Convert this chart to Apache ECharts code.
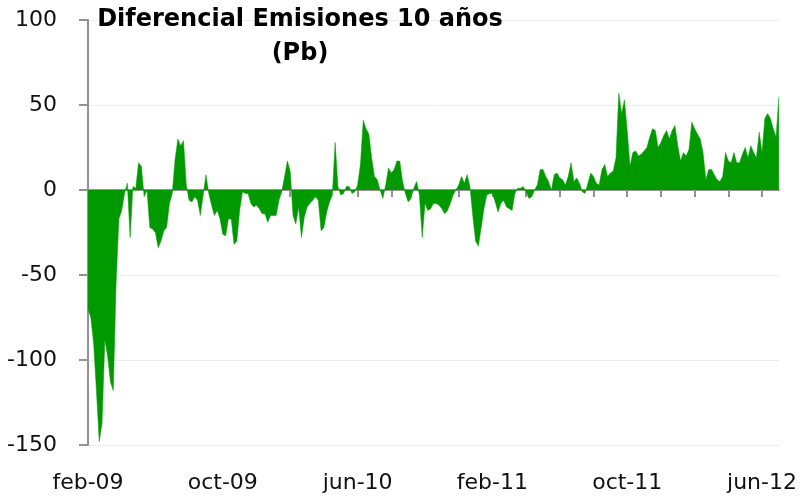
<!DOCTYPE html>
<html>
<head>
<meta charset="utf-8">
<script src="https://cdn.jsdelivr.net/npm/echarts@6/dist/echarts.min.js"></script>
<style>
  html, body { margin: 0; padding: 0; background: #fff; }
  #chart { width: 800px; height: 499px; }
</style>
</head>
<body>
<div id="chart"></div>
<script>
// meses (6 muestras por mes)
const months = [
  "feb-09", "mar-09", "abr-09", "may-09", "jun-09", "jul-09", "ago-09", "sep-09", "oct-09", "nov-09", "dic-09",
  "ene-10", "feb-10", "mar-10", "abr-10", "may-10", "jun-10", "jul-10", "ago-10", "sep-10", "oct-10", "nov-10", "dic-10",
  "ene-11", "feb-11", "mar-11", "abr-11", "may-11", "jun-11", "jul-11", "ago-11", "sep-11", "oct-11", "nov-11", "dic-11",
  "ene-12", "feb-12", "mar-12", "abr-12", "may-12", "jun-12", "jul-12",
];
const tickLabels = ["feb-09", "oct-09", "jun-10", "feb-11", "oct-11", "jun-12"];
const yTicks = [-150, -100, -50, 0, 50, 100];

// diferencial (pb)
const d2009 = [
  -70, -75, -90, -118, -148, -137,
  -88, -98, -113, -118, -55, -17,
  -12, -2, 4, -28, 2, 1,
  16, 14, -4, 0, -22, -23,
  -25, -34, -30, -24, -22, -8,
  -2, 18, 30, 26, 29, 3,
  -6, -7, -4, -6, -15, -3,
  9, -2, -9, -15, -12, -17,
  -26, -27, -17, -17, -32, -30,
  -12, -1, -2, -2, -8, -10,
  -9, -11, -14, -14, -19, -15,
];
const d2010 = [
  -15, -15, -6, -1, 8, 17,
  11, -15, -20, -10, -28, -16,
  -10, -8, -6, -4, -6, -24,
  -22, -13, -7, -3, 28, 2,
  -3, -2, 2, 2, -2, -1,
  3, 15, 41, 36, 33, 19,
  8, 6, 0, -5, 3, 13,
  10, 12, 17, 17, 5, -2,
  -7, -5, 1, 5, -3, -28,
  -8, -12, -11, -8, -8, -9,
  -11, -14, -12, -8, -3, 0,
  3, 8, 4, 9, 2, -15,
];
const d2011 = [
  -30, -33, -22, -11, -3, -2,
  -2, -7, -13, -8, -6, -10,
  -11, -12, -2, 1, 1, 2,
  -1, -5, -4, 0, 3, 12,
  12, 8, 5, 0, 9, 10,
  7, 6, 3, 8, 16, 5,
  7, 4, -1, -2, 4, 10,
  8, 4, 3, 12, 15, 8,
  10, 11, 19, 57, 45, 53,
  35, 14, 22, 23, 20, 21,
  23, 25, 31, 36, 35, 25,
  28, 32, 35, 30, 35, 38,
];
const d2012 = [
  26, 17, 22, 20, 24, 40,
  36, 33, 30, 22, 6, 12,
  12, 9, 6, 5, 8, 22,
  17, 16, 22, 16, 16, 21,
  25, 19, 26, 22, 19, 34,
  22, 42, 45, 42, 36, 31,
  55,
];

const perMonth = 6;
const values = d2009.concat(d2010, d2011, d2012);
const categories = values.map((v, i) => months[Math.floor(i / perMonth)] + " " + ((i % perMonth) + 1));

const chart = echarts.init(document.getElementById("chart"));
const option = {
  animation: false,
  title: {
    text: "Diferencial Emisiones 10 años\n(Pb)",
    left: 295,
    top: -2,
    textAlign: "center",
    textStyle: {
      fontFamily: "DejaVu Sans",
      fontWeight: "bold",
      fontSize: 24,
      lineHeight: 34,
      color: "#000",
    },
  },
  grid: {
    left: 88,
    right: 21,
    top: 20,
    bottom: 54,
  },
  xAxis: [
    {
      type: "category",
      data: categories,
      boundaryGap: false,
      axisLine: {
        onZero: true,
        lineStyle: { color: "#929292", width: 2 },
      },
      axisTick: {
        interval: (i) => i % 12 === 0,
        length: 7,
        lineStyle: { color: "#929292", width: 2 },
      },
      axisLabel: { show: false },
      splitLine: { show: false },
    },
    {
      type: "category",
      data: categories,
      boundaryGap: false,
      position: "bottom",
      axisLine: { show: false, onZero: false },
      axisTick: { show: false },
      axisLabel: {
        interval: (i) => i % 48 === 0,
        formatter: (v) => {
          const m = v.split(" ")[0];
          return tickLabels.indexOf(m) >= 0 ? m : "";
        },
        margin: 27,
        color: "#111",
        fontFamily: "DejaVu Sans",
        fontSize: 22,
      },
      splitLine: { show: false },
    },
  ],
  yAxis: {
    type: "value",
    min: yTicks[0],
    max: yTicks[yTicks.length - 1],
    interval: 50,
    axisLine: {
      show: true,
      lineStyle: { color: "#929292", width: 2 },
    },
    axisTick: {
      show: true,
      length: 9,
      lineStyle: { color: "#929292", width: 2 },
    },
    axisLabel: {
      margin: 31,
      color: "#111",
      fontFamily: "DejaVu Sans",
      fontSize: 22,
    },
    splitLine: {
      lineStyle: { color: "#ececec", width: 1 },
    },
  },
  series: [
    {
      name: "Diferencial",
      type: "line",
      xAxisIndex: 0,
      data: values,
      symbol: "none",
      lineStyle: { width: 0.5, color: "#009a00" },
      itemStyle: { color: "#009a00" },
      areaStyle: { color: "#009a00", opacity: 1 },
    },
  ],
};
chart.setOption(option);
</script>
</body>
</html>
